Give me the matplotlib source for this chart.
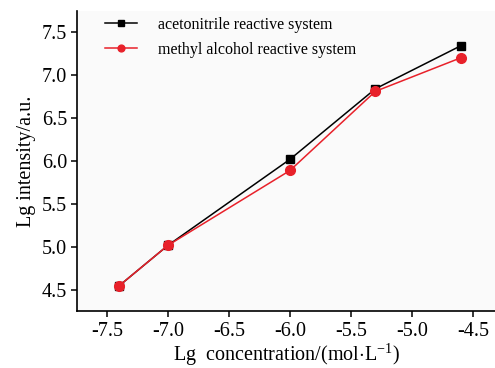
import matplotlib
matplotlib.use("Agg")
import matplotlib.pyplot as plt

x = [-7.4, -7.0, -6.0, -5.3, -4.6]
acetonitrile = [4.55, 5.02, 6.02, 6.84, 7.34]
methanol = [4.55, 5.02, 5.89, 6.81, 7.20]

plt.rcParams['font.family'] = ['Liberation Serif', 'DejaVu Serif']
plt.rcParams['mathtext.fontset'] = 'custom'
plt.rcParams['mathtext.rm'] = 'Liberation Serif'

W, H = 495, 368
fig = plt.figure(figsize=(W / 100, H / 100), dpi=100)
fig.patch.set_facecolor('white')
ax = fig.add_axes([77 / W, (H - 311) / H, 1 - 77 / W, (311 - 11) / H])
ax.set_facecolor('#fafafa')

ax.plot(x, acetonitrile, color='black', marker='s', markersize=6, lw=1.1,
        label='acetonitrile reactive system')
ax.plot(x, methanol, color='#e8212a', marker='o', markersize=7, lw=1.1,
        label='methyl alcohol reactive system')

ax.set_xlim(-7.746, -4.32)
ax.set_ylim(4.256, 7.744)
ax.set_xticks([-7.5, -7.0, -6.5, -6.0, -5.5, -5.0, -4.5])
ax.set_xticklabels(['-7.5', '-7.0', '-6.5', '-6.0', '-5.5', '-5.0', '-4.5'])
ax.set_yticks([4.5, 5.0, 5.5, 6.0, 6.5, 7.0, 7.5])
ax.set_yticklabels(['4.5', '5.0', '5.5', '6.0', '6.5', '7.0', '7.5'])
ax.spines['top'].set_visible(False)
ax.spines['right'].set_visible(False)
for s in ('left', 'bottom'):
    ax.spines[s].set_linewidth(1.2)
ax.tick_params(direction='out', length=4, width=1.1, labelsize=14.5, pad=3)
ax.tick_params(axis='x', pad=4)

ax.set_xlabel('Lg  concentration/(mol$\\cdot$L$^{\\mathrm{-1}}$)', fontsize=14.5, labelpad=0)
ax.set_ylabel('Lg intensity/a.u.', fontsize=14.5, labelpad=4)

leg = fig.legend(loc='upper left', frameon=False, fontsize=11.5,
                 bbox_to_anchor=(105 / W, (H - 17) / H), borderpad=0, borderaxespad=0,
                 handlelength=2.0, labelspacing=0.55, handletextpad=1.3,
                 markerscale=0.7)

fig.savefig('out.png', dpi=100)
